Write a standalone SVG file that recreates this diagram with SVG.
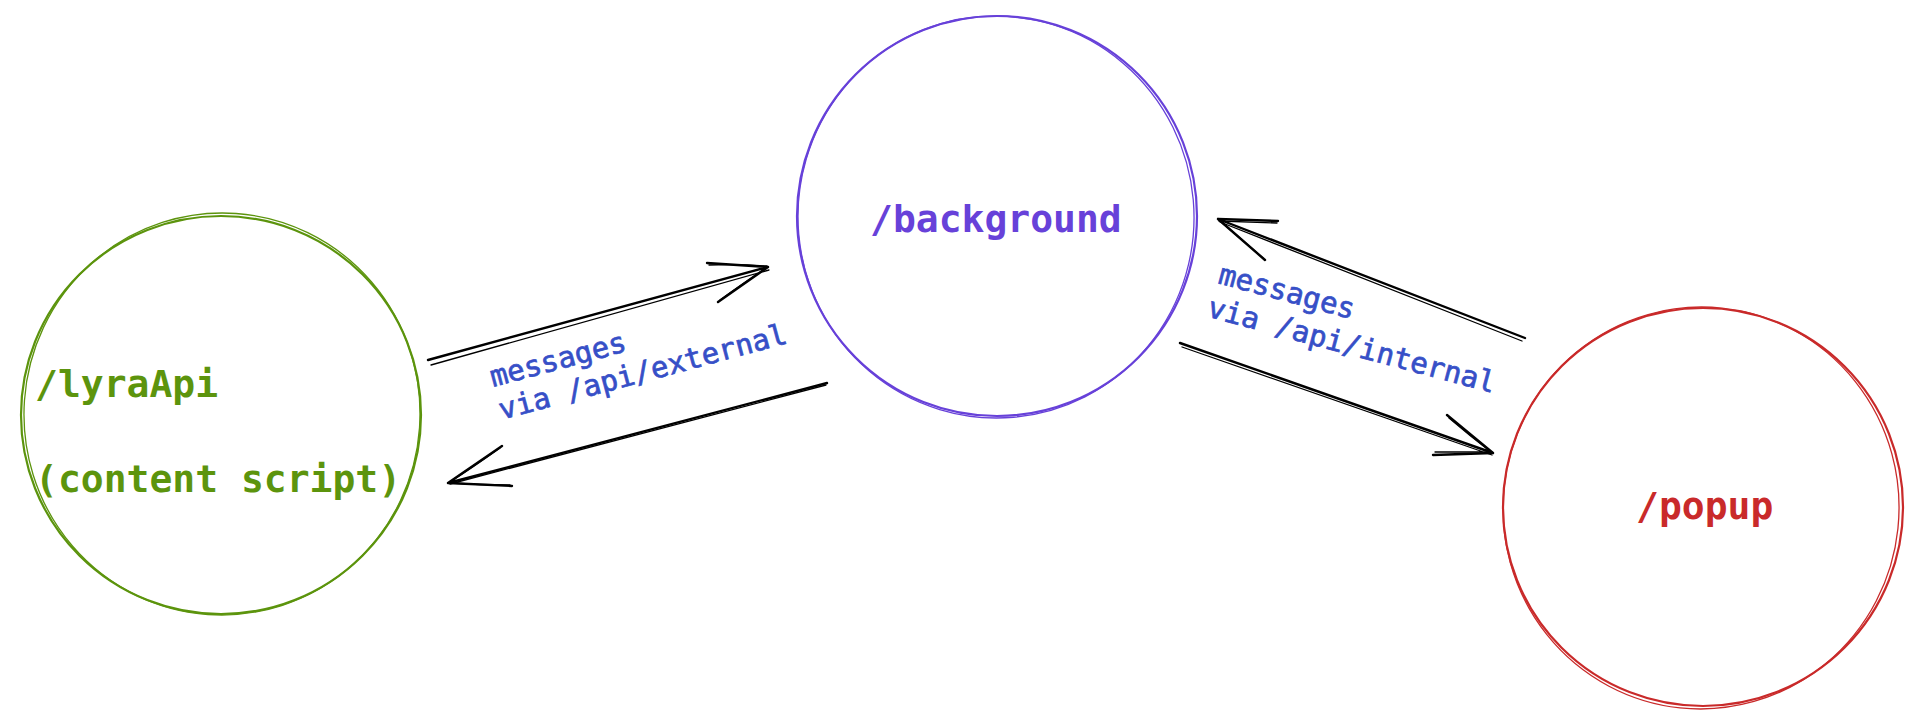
<svg xmlns="http://www.w3.org/2000/svg" width="1923" height="726" viewBox="0 0 1923 726">
  <style>
    .node { fill: none; stroke-width: 2.2; stroke-linecap: round; }
    .node2 { fill: none; stroke-width: 1.3; stroke-linecap: round; }
    .nlabel { font-family: "DejaVu Sans Mono", "Liberation Mono", monospace; font-size: 38px; font-weight: bold; }
    .elabel { font-family: "DejaVu Sans Mono", "Liberation Mono", monospace; font-size: 29px; fill: #364fc7; stroke: #364fc7; stroke-width: 0.7; }
    .arrow { fill: none; stroke: #000000; stroke-width: 2.4; stroke-linecap: round; stroke-linejoin: round; }
    .arrow2 { fill: none; stroke: #000000; stroke-width: 1.3; stroke-linecap: round; stroke-linejoin: round; }
  </style>
  <rect width="1923" height="726" fill="#ffffff"/>

  <g id="node-lyraApi">
    <ellipse class="node" cx="221" cy="415" rx="200" ry="199" stroke="#5c940d"/>
    <ellipse class="node2" cx="222" cy="414" rx="198" ry="201" stroke="#5c940d" transform="rotate(4 222 414)"/>
    <text class="nlabel" fill="#5c940d"><tspan x="35" y="397">/lyraApi</tspan><tspan x="35" y="492">(content script)</tspan></text>
  </g>

  <g id="node-background">
    <ellipse class="node" cx="997" cy="216" rx="200" ry="200" stroke="#6741d9"/>
    <ellipse class="node2" cx="996" cy="217" rx="198" ry="201" stroke="#6741d9" transform="rotate(-5 996 217)"/>
    <text class="nlabel" x="870" y="232" fill="#6741d9">/background</text>
  </g>

  <g id="node-popup">
    <ellipse class="node" cx="1703" cy="507" rx="200" ry="199" stroke="#c92a2a"/>
    <ellipse class="node2" cx="1701" cy="508" rx="198" ry="201" stroke="#c92a2a" transform="rotate(6 1701 508)"/>
    <text class="nlabel" x="1636" y="519" fill="#c92a2a">/popup</text>
  </g>

  <g id="connectors">
    <!-- lyraApi -> background -->
    <path class="arrow" d="M428 360 L768 267 M707 263 L768 267 M718 302 L768 267"/>
    <path class="arrow2" d="M431 365 L769 270 M709 265 Q740 264 767 266 M720 300 Q745 282 766 268"/>
    <!-- background -> lyraApi -->
    <path class="arrow" d="M827 383 L448 483 M502 446 L448 483 M512 486 L448 483"/>
    <path class="arrow2" d="M826 385 L450 484 M500 448 Q472 468 450 482 M510 485 Q480 485 451 483"/>
    <!-- popup -> background -->
    <path class="arrow" d="M1525 338 L1218 219 M1278 221 L1218 219 M1265 260 L1218 219"/>
    <path class="arrow2" d="M1522 341 L1220 222 M1277 223 Q1248 222 1219 221 M1263 258 Q1240 238 1220 221"/>
    <!-- background -> popup -->
    <path class="arrow" d="M1180 343 L1493 453 M1447 415 L1493 453 M1433 455 L1493 453"/>
    <path class="arrow2" d="M1182 347 L1492 455 M1449 418 Q1470 436 1491 452 M1435 452 Q1462 452 1492 452"/>
  </g>

  <g id="label-external">
    <text class="elabel" transform="translate(493 387) rotate(-15)"><tspan x="0" y="0">messages</tspan><tspan x="0" y="34">via /api/external</tspan></text>
  </g>
  <g id="label-internal">
    <text class="elabel" transform="translate(1217 283) rotate(15)"><tspan x="0" y="0">messages</tspan><tspan x="-2" y="35">via /api/internal</tspan></text>
  </g>
</svg>
